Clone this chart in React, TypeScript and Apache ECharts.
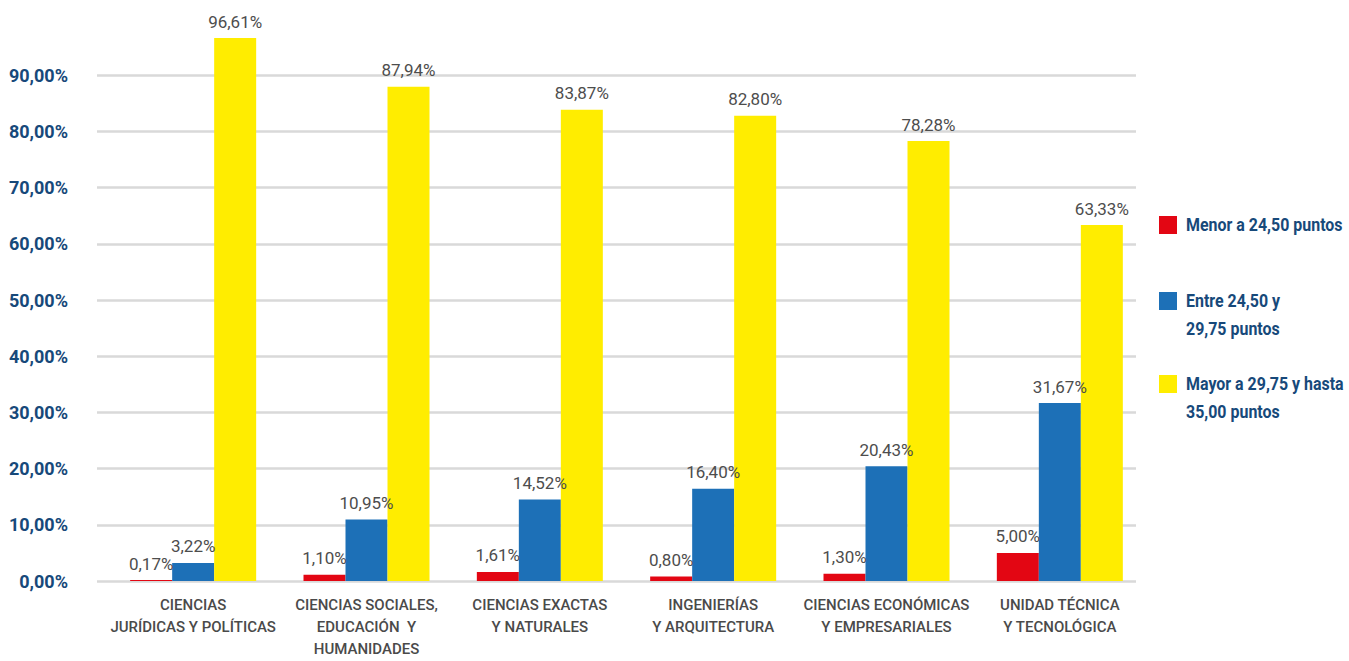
import React, { useEffect, useRef } from "react";
import * as echarts from "echarts";

const categories = [
  "CIENCIAS\nJURÍDICAS Y POLÍTICAS",
  "CIENCIAS SOCIALES,\nEDUCACIÓN  Y\nHUMANIDADES",
  "CIENCIAS EXACTAS\nY NATURALES",
  "INGENIERÍAS\nY ARQUITECTURA",
  "CIENCIAS ECONÓMICAS\nY EMPRESARIALES",
  "UNIDAD TÉCNICA\nY TECNOLÓGICA",
];
const seriesNames = [
  "Menor a 24,50 puntos",
  "Entre 24,50 y 29,75 puntos",
  "Mayor a 29,75 y hasta 35,00 puntos",
];
const legendLines = [
  ["Menor a 24,50 puntos"],
  ["Entre 24,50 y", "29,75 puntos"],
  ["Mayor a 29,75 y hasta", "35,00 puntos"],
];
const menor = [0.17, 1.1, 1.61, 0.8, 1.3, 5.0];
const entre = [3.22, 10.95, 14.52, 16.4, 20.43, 31.67];
const mayor = [96.61, 87.94, 83.87, 82.8, 78.28, 63.33];
const yTicks = [0, 10, 20, 30, 40, 50, 60, 70, 80, 90, 100];

const colors = ["#e30613", "#1d70b7", "#ffed00"];
const FONT = 'Roboto, "Noto Sans", sans-serif';

const fmt = (v: number) => v.toFixed(2).replace(".", ",") + "%";

export default function App() {
  const ref = useRef<HTMLDivElement>(null);
  useEffect(() => {
    if (!ref.current) return;
    const chart = echarts.init(ref.current, undefined, { renderer: "svg" });
    const dataSets = [menor, entre, mayor];
    const legendTops = [216, 292, 375];
    const graphic: any[] = [];
    seriesNames.forEach((_, i) => {
      graphic.push({
        type: "rect",
        left: 1159,
        top: legendTops[i],
        shape: { width: 18, height: 18 },
        style: { fill: colors[i] },
      });
      legendLines[i].forEach((line, j) => {
        graphic.push({
          type: "text",
          x: 1186,
          y: legendTops[i] - 1 + j * 28,
          scaleX: 0.84,
          style: {
            text: line,
            fill: "#17497a",
            font: `bold 19px ${FONT}`,
            textVerticalAlign: "top",
          },
        });
      });
    });
    chart.setOption({
      animation: false,
      grid: [
        { left: 97, right: 213, top: 19, bottom: 80, outerBoundsMode: "none" },
        { left: 106.5, right: 202.5, top: 19, bottom: 80, outerBoundsMode: "none" },
      ],
      xAxis: [
        { type: "category", gridIndex: 0, data: categories, show: false },
        {
          type: "category",
          gridIndex: 1,
          data: categories,
          axisLine: { show: false },
          axisTick: { show: false },
          axisLabel: {
            interval: 0,
            margin: 13,
            color: "#4a4a4a",
            fontFamily: FONT,
            fontSize: 15,
            fontWeight: 500,
            lineHeight: 22,
          },
        },
      ],
      yAxis: [
        {
          type: "value",
          gridIndex: 0,
          min: 0,
          max: 100,
          interval: 10,
          axisLine: { show: false },
          axisTick: { show: false },
          axisLabel: {
            margin: 29,
            color: "#17497a",
            fontFamily: FONT,
            fontSize: 18,
            fontWeight: "bold",
            formatter: (v: number) => (v >= 100 ? "" : v.toFixed(2).replace(".", ",") + "%"),
          },
          splitLine: {
            lineStyle: {
              color: yTicks.map((t) => (t >= 100 ? "rgba(0,0,0,0)" : "#d9d9d9")),
              width: 2.5,
            },
          },
        },
        { type: "value", gridIndex: 1, min: 0, max: 100, show: false },
      ],
      series: dataSets.map((d, i) => ({
        name: seriesNames[i],
        type: "bar",
        xAxisIndex: 1,
        yAxisIndex: 1,
        data: d,
        barWidth: 42,
        barGap: "0%",
        itemStyle: { color: colors[i] },
        label: {
          show: true,
          position: "top",
          distance: 8,
          color: "#4d4d4d",
          fontFamily: FONT,
          fontSize: 17,
          formatter: (p: any) => fmt(p.value),
        },
      })),
      graphic,
    });
    return () => chart.dispose();
  }, []);
  return (
    <div
      ref={ref}
      style={{ position: "fixed", left: 0, top: 0, width: 1349, height: 661, background: "#fff" }}
    />
  );
}
